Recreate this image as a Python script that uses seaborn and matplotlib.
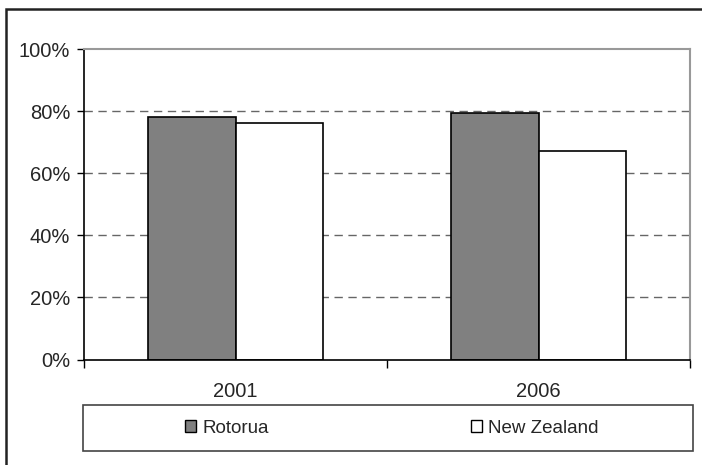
import matplotlib
matplotlib.use("Agg")
import matplotlib.pyplot as plt
import matplotlib.patches as mpatches
from matplotlib.ticker import PercentFormatter, FixedLocator
import pandas as pd
import seaborn as sns

# Share of population, by census year
years = ["2001", "2006"]
areas = ["Rotorua", "New Zealand"]
rotorua = [0.78, 0.795]
new_zealand = [0.762, 0.67]
colors = {"Rotorua": "#808080", "New Zealand": "#ffffff"}

df = pd.DataFrame({
    "Year": years * 2,
    "Area": [areas[0]] * len(years) + [areas[1]] * len(years),
    "Share": rotorua + new_zealand,
})

sns.set_style("white")
plt.rcParams["font.family"] = ["Liberation Sans", "DejaVu Sans"]

W, H = 702, 465
fig = plt.figure(figsize=(W / 100, H / 100), dpi=100)
ax = fig.add_axes([84 / W, 1 - 359.5 / H, (690 - 84) / W, (359.5 - 49) / H])

sns.barplot(data=df, x="Year", y="Share", hue="Area", hue_order=areas,
            palette=colors, edgecolor="black", linewidth=1.2,
            width=0.575, gap=0, ax=ax, legend=False, errorbar=None)

ax.set_ylim(0, 1.0)
ax.set_xlim(-0.5, 1.5)
ax.yaxis.set_major_locator(FixedLocator([0, 0.2, 0.4, 0.6, 0.8, 1.0]))
ax.yaxis.set_major_formatter(PercentFormatter(1.0, decimals=0))
ax.set_xlabel("")
ax.set_ylabel("")

# dashed gridlines behind bars
for v in [0.2, 0.4, 0.6, 0.8]:
    ax.axhline(v, color="#666666", linestyle=(0, (6, 4)), linewidth=1.0, zorder=0)
ax.set_axisbelow(True)

for side in ["left", "bottom"]:
    ax.spines[side].set_color("black")
    ax.spines[side].set_linewidth(1.2)
for side in ["top", "right"]:
    ax.spines[side].set_color("#999999")
    ax.spines[side].set_linewidth(1.5)

ax.tick_params(axis="y", direction="out", length=5, width=1.0, color="black",
               labelsize=14.5, pad=5, left=True)
# category labels centred, ticks at category boundaries
ax.set_xticks([0, 1])
ax.set_xticklabels(years)
ax.tick_params(axis="x", length=0, labelsize=14.5, pad=16)
ax.set_xticks([-0.5, 0.5, 1.5], minor=True)
ax.tick_params(axis="x", which="minor", direction="out", length=6, width=1.0,
               color="black", bottom=True)

# outer chart border
fig.patches.append(mpatches.Rectangle((6 / W, -0.01), 1.05, 1.01 - 9 / H,
                                      transform=fig.transFigure, fill=False,
                                      edgecolor="#222222", linewidth=1.8))
# legend box
fig.patches.append(mpatches.Rectangle((83 / W, 1 - 451 / H), (693 - 83) / W,
                                      (451 - 405) / H, transform=fig.transFigure,
                                      fill=False, edgecolor="#444444", linewidth=1.2))

handles = [mpatches.Patch(facecolor=colors[a], edgecolor="black", linewidth=1.0, label=a)
           for a in areas]
fig.legend(handles=handles, loc="center", ncol=2,
           bbox_to_anchor=(392 / W, 1 - 428 / H), frameon=False,
           fontsize=13.5, handlelength=0.55, handleheight=0.55,
           handletextpad=0.35, columnspacing=10.8)

fig.savefig("out.png", dpi=100)
